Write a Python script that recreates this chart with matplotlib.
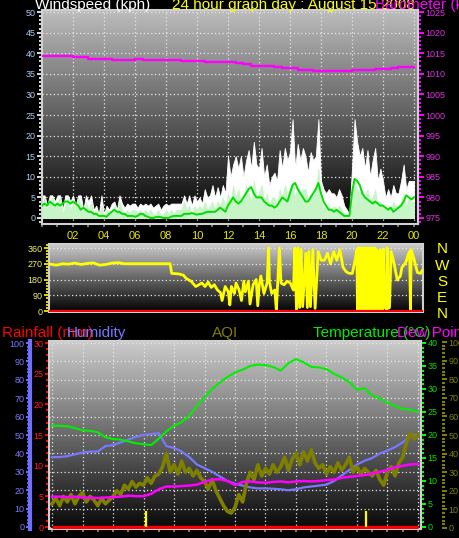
import numpy as np
import matplotlib
matplotlib.use("Agg")
import matplotlib.pyplot as plt
from matplotlib.ticker import MultipleLocator, FixedLocator, NullLocator

plt.rcParams['font.family'] = ['Liberation Sans', 'DejaVu Sans']

# ---------------- data ----------------
title_wind = "Windspeed (kph)"
title_day = "24 hour graph day : August 15 2008"
title_baro = "Barometer (kPa)"
bottom_titles = ["Rainfall (mm)", "Humidity", "AQI", "Temperature (°C)", "Dew Point"]
compass = ["N", "W", "S", "E", "N"]
hour_ticks = [2, 4, 6, 8, 10, 12, 14, 16, 18, 20, 22, 24]
hour_labels = ["02", "04", "06", "08", "10", "12", "14", "16", "18", "20", "22", "00"]

# wind, 10-minute samples (kph)
wind_gust = [
    5.5, 5.5, 3, 5.5, 5.5, 4,        # 0h
    5.5, 5.5, 2, 5.5, 5.5, 4,        # 1h
    5.5, 3, 5.5, 5.5, 2, 5.5,        # 2h
    4, 5.5, 2, 3, 1, 5.5,            # 3h
    1, 3, 2, 3.5, 4, 2,              # 4h
    5.5, 3.5, 2.5, 3.5, 3, 3.5,      # 5h
    3.5, 2.5, 3.5, 3, 3.5, 3,        # 6h
    3.5, 2.5, 3, 3.5, 2, 3,          # 7h
    3.5, 3, 3.5, 3.5, 3.5, 3.5,      # 8h
    3.5, 5.5, 3.5, 5.5, 3, 5.5,      # 9h
    4, 5, 3.5, 7, 5, 5.5,            # 10h
    8, 5, 7.5, 5, 8, 6,              # 11h
    15, 10, 13, 15, 12, 15,          # 12h
    10, 14, 16.5, 12, 18.5, 13,      # 13h
    12, 17, 10, 13, 8, 10,           # 14h
    11, 9, 16.5, 12, 17, 14,         # 15h
    16, 24, 12, 18, 14, 17,          # 16h
    15, 11, 16, 14, 15, 24,          # 17h
    9, 7, 6, 7, 6, 6,                # 18h
    5, 7, 5.5, 3, 2, 1,              # 19h
    12, 24, 18.5, 15, 17, 12,        # 20h
    16.5, 10, 14, 17, 9, 12,         # 21h
    9, 5, 7, 5, 8, 6,                # 22h
    6, 9, 13, 7, 9, 9,               # 23h
    9]
wind_speed = [
    3, 5, 2, 4, 5, 3,
    4, 5, 1, 3, 5, 2,
    4, 2, 5, 3, 1, 4,
    2, 4, 1, 2, 0.5, 3,
    0.5, 2, 1, 2, 3, 1,
    4, 2, 1, 2, 1, 2,
    2, 1, 2, 1, 2, 1,
    2, 1, 1, 2, 0.5, 1,
    2, 1, 2, 1, 2, 2,
    2, 4, 2, 3, 1, 3,
    2, 3, 2, 4, 2, 3,
    4, 2, 4, 3, 5, 3,
    6, 4, 8, 5, 7, 4,
    5, 8, 6, 4, 9, 5,
    6, 8, 4, 6, 3, 5,
    5, 3, 7, 5, 8, 6,
    7, 9, 5, 8, 6, 7,
    7, 4, 6, 5, 7, 12,
    4, 3, 2, 3, 2, 3,
    2, 3, 2, 1, 0.5, 0.5,
    5, 9, 7, 6, 7, 5,
    7, 4, 5, 7, 3, 4,
    3, 2, 3, 2, 4, 3,
    3, 4, 6, 3, 5, 4,
    4]
wind_avg = [
    3, 3.5, 3, 4, 3.5, 3,
    3.5, 3, 3.5, 4, 4, 3.5,
    4, 3.5, 3, 2, 2.5, 2,
    1.5, 1.5, 1, 1, 0.5, 0.5,
    0.5, 0.3, 1, 1.5, 2, 1.5,
    1.5, 1, 1, 0.5, 0.5, 0.5,
    0.3, 0.5, 1, 1, 0.5, 0.3,
    0, 0, 0.2, 0.3, 0.2, 0,
    0, 0, 0.3, 0.5, 0.5, 0.5,
    0.5, 1, 1, 1, 1.2, 1,
    0.8, 1, 1, 1.3, 1.5, 1.5,
    1.5, 1.5, 2, 2.5, 2, 1.5,
    3, 4, 5, 4, 3.5, 4,
    5, 6, 7, 7.5, 6, 5,
    5, 5, 4, 3.5, 3, 3,
    2.5, 3, 4, 5, 4.5, 4,
    6, 8, 8.5, 7, 6, 5,
    4, 4, 5, 6, 7, 8.5,
    6, 4, 3, 2, 2, 1.5,
    2, 1.5, 1, 0.5, 0.5, 0.5,
    6, 9.5, 9, 8, 6, 5,
    4.5, 4, 3.5, 4, 3.5, 3,
    3, 2.5, 2, 2.5, 1.5, 2,
    2.5, 3, 4, 5.5, 5, 4.5,
    5]
wind_hours = np.arange(len(wind_gust)) / 6.0

# barometer, half-hourly (hPa)
pressure = [
    1014.4, 1014.4, 1014.4, 1014.4, 1014.0, 1014.0, 1013.7, 1013.7,
    1013.7, 1013.4, 1013.4, 1013.4, 1013.5, 1013.3, 1013.3, 1013.3,
    1013.3, 1013.3, 1013.1, 1013.1, 1013.1, 1012.9, 1012.8, 1012.8,
    1012.8, 1012.6, 1012.5, 1012.0, 1012.0, 1011.8, 1011.7, 1011.4,
    1011.4, 1011.0, 1011.0, 1010.6, 1010.6, 1010.6, 1010.6, 1010.6,
    1010.9, 1010.9, 1011.0, 1011.1, 1011.2, 1011.4, 1011.7, 1011.7,
    1011.6]
press_hours = np.arange(len(pressure)) / 2.0

# wind direction (degrees)
dir_hours = [
    0.0, 0.4, 0.8, 1.2, 1.6, 2.0, 2.4, 2.8, 3.2, 3.6, 4.0, 4.4, 4.8, 5.5, 6.5, 7.5, 7.75,
    7.85, 8.3, 8.6, 8.8, 9.1, 9.4, 9.6, 9.8, 10.0, 10.2, 10.4, 10.6, 10.8, 11.0, 11.1,
    11.3, 11.5, 11.6, 11.7, 11.9, 12.0, 12.2, 12.35, 12.5, 12.6, 12.8, 12.9, 13.1, 13.3,
    13.4, 13.5, 13.6, 13.8, 14.0, 14.1, 14.15, 14.3, 14.5, 14.6, 14.8, 14.9, 15.1, 15.3,
    15.5, 15.7, 15.8, 15.9, 16.0, 16.1, 16.2, 16.3, 16.5, 16.6, 16.7, 16.8, 16.95, 17.1,
    17.3, 17.5, 17.7, 17.9, 18.1, 18.3, 18.5, 18.7, 18.9, 19.1, 19.3, 19.5, 19.7, 19.8,
    19.83, 19.87, 19.9, 19.93, 19.97, 20.0, 20.03, 20.07, 20.1, 20.13, 20.17, 20.2,
    20.23, 20.27, 20.3, 20.33, 20.37, 20.4, 20.43, 20.47, 20.5, 20.53, 20.57, 20.6,
    20.63, 20.67, 20.7, 20.73, 20.77, 20.8, 20.83, 20.87, 20.9, 20.93, 20.97, 21.0,
    21.03, 21.07, 21.1,
    21.2, 21.25, 21.3, 21.35, 21.45, 21.5, 21.6, 21.7, 21.75, 21.8, 21.9, 22.0, 22.2,
    22.3, 22.4, 22.6, 22.7, 22.9, 23.0, 23.1, 23.2, 23.25, 23.3, 23.5, 23.7, 23.9, 24.0]
dir_deg = [
    268, 262, 270, 268, 274, 266, 272, 275, 262, 266, 274, 276, 270, 270, 270, 270, 270,
    215, 212, 205, 185, 170, 140, 150, 160, 140, 165, 135, 150, 120, 105, 60,
    140, 110, 35, 140, 100, 160, 120, 60, 170, 110, 170, 40, 150, 180,
    30, 150, 200, 100, 160, 360, 170, 100, 120, 6, 360, 160, 150, 170,
    160, 120, 360, 6, 360, 20, 350, 25, 330, 20, 340, 25, 350, 15,
    340, 290, 290, 330, 270, 340, 290, 350, 250, 225, 215, 215, 300, 350,
    5, 360, 5, 360, 5, 355, 5, 360, 5, 360, 5, 350,
    5, 360, 5, 355, 5, 360, 5, 360, 5, 350, 5, 360,
    5, 355, 5, 360, 5, 360, 5, 350, 5, 360, 5, 355,
    5, 350, 10,
    340, 5, 350, 5, 5, 355, 20, 10, 360, 15, 20, 340, 270,
    225, 177, 200, 250, 270, 290, 320, 340, 5, 350, 290, 220, 215, 230]

# bottom panel, half-hourly
temperature = [
    22.0, 22.0, 21.9, 21.5, 21.0, 20.9, 20.6, 19.5, 19.1, 19.0, 18.6, 18.2,
    18.0, 17.8, 19.2, 20.8, 22.0, 22.8, 24.2, 26.2, 28.2, 30.0, 31.4, 32.6,
    33.6, 34.2, 35.0, 35.3, 35.2, 34.8, 34.0, 35.6, 36.5, 35.8, 34.8, 34.7,
    34.3, 33.3, 32.5, 31.5, 29.8, 30.2, 28.5, 28.0, 27.0, 26.3, 25.6, 25.5,
    25.0]
humidity = [
    38, 38, 38.5, 39.5, 40.5, 41, 41, 44, 44.5, 46, 47.5, 49,
    50, 50.5, 51, 44, 43, 41, 38, 34, 32, 30, 27.5, 25,
    23.5, 22.5, 21.5, 21, 21, 20.8, 20.5, 20, 20.5, 21.5, 22, 22.5,
    23, 25, 28, 31, 34, 36, 37.5, 40, 41.5, 43.5, 46, 49.5,
    50]
dew_point = [
    6.6, 6.6, 6.5, 6.6, 6.4, 6.4, 6.3, 6.4, 6.5, 6.6, 6.8, 6.7,
    6.7, 7.2, 8.2, 8.8, 8.8, 8.9, 9.0, 9.2, 9.8, 10.3, 10.4, 10.0,
    9.1, 9.8, 9.9, 9.7, 9.6, 9.8, 9.9, 9.7, 9.9, 10.0, 9.9, 10.0,
    10.2, 10.3, 10.7, 10.9, 11.1, 11.3, 11.6, 12.0, 12.4, 13.0, 13.3, 13.6,
    13.7]
half_hours = np.arange(len(temperature)) / 2.0

# AQI, 15-minute samples
aqi = [
    13, 16, 12, 17, 14, 18, 13, 17, 19, 14, 17, 15, 12, 16, 13, 15,
    17, 20, 18, 23, 21, 25, 22, 24, 23, 27, 24, 28, 29, 33, 40, 30,
    34, 29, 36, 30, 32, 28, 31, 27, 25, 21, 26, 20, 16, 12, 9, 8,
    11, 18, 14, 24, 30, 26, 34, 28, 32, 29, 34, 30, 33, 38, 31, 37,
    40, 34, 41, 36, 42, 35, 32, 34, 29, 33, 30, 35, 31, 34, 38, 30,
    33, 29, 32, 30, 28, 31, 26, 23, 30, 33, 28, 35, 38, 46, 51, 48,
    50]
aqi_hours = np.arange(len(aqi)) / 4.0

rain_hours = [0, 24]
rainfall = [0, 0]
event_hours = [6.16, 20.6]
event_mm = [2.6, 2.6]

# ---------------- layout helpers ----------------
W, H = 460, 538
fig = plt.figure(figsize=(W / 100, H / 100), dpi=100, facecolor='black')


def rect(l, t, r, b):
    return [l / W, 1 - b / H, (r - l) / W, (b - t) / H]


def fx(px):
    return px / W


def fy(py):
    return 1 - py / H


def gradient(ax, top, bottom):
    g = np.linspace(top, bottom, 256).reshape(-1, 1)
    ax.imshow(np.dstack([g, g, g]), extent=[0, 1, 0, 1], transform=ax.transAxes,
              aspect='auto', zorder=0, interpolation='bilinear')


FRAME = '#d0d0d0'
GRID = dict(color='#e6e6e6', linestyle=(0, (1, 2)), linewidth=0.9)
TL = 6.5  # tick label size

# ---------------- top panel: wind + barometer ----------------
ax1 = fig.add_axes(rect(42, 10, 418, 224))
ax1.set_facecolor('black')
gradient(ax1, 0.74, 0.0)
ax1.fill_between(wind_hours, 0, wind_gust, color='white', lw=0.6, edgecolor='white', zorder=2)
ax1.fill_between(wind_hours, 0, wind_speed, color='#c8f5c8', lw=0.5, edgecolor='#c8f5c8', zorder=3)
ax1.plot(wind_hours, wind_avg, color='#00dd00', lw=1.4, zorder=4)
ax1.set_xlim(0, 24.26)
ax1.set_ylim(-1.46, 50.5)
ax1.yaxis.set_major_locator(MultipleLocator(5))
ax1.yaxis.set_minor_locator(MultipleLocator(1))
ax1.tick_params(axis='y', which='major', colors='white', length=3.6, width=1.2,
                labelsize=TL, labelcolor='#a8cdf0', pad=1)
ax1.tick_params(axis='y', which='minor', colors='white', length=2, width=1.2)
ax1.xaxis.set_major_locator(FixedLocator(hour_ticks))
ax1.set_xticklabels(hour_labels)
ax1.xaxis.set_minor_locator(MultipleLocator(1))
ax1.tick_params(axis='x', which='major', colors='#909090', length=2.5, width=1.2,
                labelsize=8, labelcolor='#e8e800', pad=2.5)
ax1.tick_params(axis='x', which='minor', colors='#909090', length=2.5, width=1.2)
ax1.grid(True, which='major', **GRID)
ax1.set_axisbelow('line')
for s in ax1.spines.values():
    s.set_color(FRAME)
    s.set_linewidth(1.5)

ax1p = ax1.twinx()
ax1p.plot(press_hours, pressure, color='#ff00ff', lw=1.7, drawstyle='steps-post')
ax1p.set_ylim(975 - 1.46, 975 + 50.5)
ax1p.yaxis.set_major_locator(MultipleLocator(5))
ax1p.yaxis.set_minor_locator(MultipleLocator(1))
ax1p.tick_params(axis='y', which='major', colors='#ff00ff', length=4.5, width=1.5,
                 labelsize=TL, labelcolor='#e030e0', pad=1)
ax1p.tick_params(axis='y', which='minor', colors='#ff00ff', length=2.5, width=1.5)
for k, s in ax1p.spines.items():
    s.set_visible(k == 'right')
    s.set_color(FRAME)
    s.set_linewidth(1.5)

fig.text(fx(35), fy(8.5), title_wind, color='white', fontsize=11, va='baseline')
fig.text(fx(172), fy(8.5), title_day, color='#ffff00', fontsize=11, va='baseline')
fig.text(fx(375), fy(8.5), title_baro, color='#ff00ff', fontsize=11, va='baseline')

# ---------------- middle panel: wind direction ----------------
ax2 = fig.add_axes(rect(49, 244, 423, 312))
ax2.set_facecolor('black')
gradient(ax2, 0.80, 0.0)
ax2.plot(dir_hours, dir_deg, color='#ffff00', lw=2.0, zorder=3)
ax2.axhline(0, color='#ff0000', lw=1.6, zorder=4)
ax2.set_xlim(-0.065, 24.06)
ax2.set_ylim(-5.7, 382.9)
ax2.yaxis.set_major_locator(FixedLocator([0, 90, 180, 270, 360]))
ax2.yaxis.set_minor_locator(MultipleLocator(18))
ax2.tick_params(axis='y', which='major', colors='#ffff00', length=3.6, width=1.2,
                labelsize=TL, labelcolor='#f0f070', pad=1)
ax2.tick_params(axis='y', which='minor', colors='#ffff00', length=2, width=1.2)
ax2.xaxis.set_major_locator(NullLocator())
ax2.grid(True, axis='y', which='major', **GRID)
for s in ax2.spines.values():
    s.set_color(FRAME)
    s.set_linewidth(1.5)

for lab, py in zip(compass, [249, 266, 282, 298, 314]):
    fig.text(fx(442), fy(py), lab, color='#ffff00', fontsize=11, ha='center', va='center')

# ---------------- bottom panel ----------------
ax3 = fig.add_axes(rect(49, 341, 421, 529))
ax3.set_facecolor('black')
gradient(ax3, 0.80, 0.03)
ax3.plot(half_hours, humidity, color='#7878ff', lw=1.6, zorder=3)
ax3.set_xlim(-0.2, 24.2)
ax3.set_ylim(-1.09, 101.1)
ax3.yaxis.set_major_locator(MultipleLocator(10))
ax3.yaxis.set_minor_locator(MultipleLocator(2))
ax3.tick_params(axis='y', which='major', colors='#7070ff', length=3, width=1.4,
                labelsize=TL, labelcolor='#7878ff', pad=1)
ax3.tick_params(axis='y', which='minor', colors='#7070ff', length=2, width=1.2)
ax3.xaxis.set_major_locator(MultipleLocator(2))
ax3.xaxis.set_minor_locator(MultipleLocator(1))
ax3.tick_params(axis='x', which='both', colors='#909090', length=2.5, width=1.2,
                labelbottom=False)
ax3.grid(True, which='major', **GRID)
ax3.spines['left'].set_position(('axes', (30 - 49) / 372))
ax3.spines['left'].set_color('#7070ff')
ax3.spines['left'].set_linewidth(3)
for k in ['top', 'bottom', 'right']:
    ax3.spines[k].set_color(FRAME)
    ax3.spines[k].set_linewidth(1.5)

# AQI
ax3a = ax3.twinx()
ax3a.plot(aqi_hours, aqi, color='#808000', lw=2.6)
ax3a.set_ylim(-0.54, 100.54)
ax3a.yaxis.set_major_locator(MultipleLocator(10))
ax3a.yaxis.set_minor_locator(MultipleLocator(2))
ax3a.tick_params(axis='y', which='major', colors='#808000', length=3.6, width=1.5,
                 labelsize=TL, labelcolor='#808000', pad=1)
ax3a.tick_params(axis='y', which='minor', colors='#808000', length=2.2, width=1.5)
for k, s in ax3a.spines.items():
    s.set_visible(False)
ax3a.spines['right'].set_position(('axes', (442 - 49) / 372))

# temperature + dew point
ax3t = ax3.twinx()
ax3t.plot(half_hours, dew_point, color='#ff00ff', lw=1.8, zorder=3)
ax3t.plot(half_hours, temperature, color='#00f000', lw=1.5, zorder=4)
ax3t.set_ylim(-0.435, 40.43)
ax3t.yaxis.set_major_locator(MultipleLocator(5))
ax3t.yaxis.set_minor_locator(MultipleLocator(1))
ax3t.tick_params(axis='y', which='major', colors='#00ff00', length=3.6, width=1.5,
                 labelsize=TL, labelcolor='#00e000', pad=1)
ax3t.tick_params(axis='y', which='minor', colors='#00ff00', length=2.2, width=1.5)
for k, s in ax3t.spines.items():
    s.set_visible(k == 'right')
    s.set_color(FRAME)
    s.set_linewidth(1.5)

# rainfall
ax3r = ax3.twinx()
ax3r.plot(rain_hours, rainfall, color='#ff0000', lw=2.4, zorder=3, solid_capstyle='butt')
ax3r.vlines(event_hours, 0, event_mm, color='#ffff00', lw=1.6, zorder=4)
ax3r.set_ylim(-0.326, 30.33)
ax3r.yaxis.tick_left()
ax3r.yaxis.set_major_locator(MultipleLocator(5))
ax3r.yaxis.set_minor_locator(MultipleLocator(1))
ax3r.tick_params(axis='y', which='major', colors='#ff0000', length=3.2, width=1.5,
                 labelsize=TL, labelcolor='#ff2020', pad=1)
ax3r.tick_params(axis='y', which='minor', colors='#ff0000', length=2.2, width=1.5)
for k, s in ax3r.spines.items():
    s.set_visible(k == 'left')
    s.set_color(FRAME)
    s.set_linewidth(1.5)

title_x = [2, 67, 212, 313, 397]
title_c = ['#ff0000', '#7878ff', '#808000', '#00ee00', '#ff00ff']
for t, x, c in zip(bottom_titles, title_x, title_c):
    fig.text(fx(x), fy(337), t, color=c, fontsize=11, va='baseline')

fig.savefig('out.png', dpi=100, facecolor='black')
